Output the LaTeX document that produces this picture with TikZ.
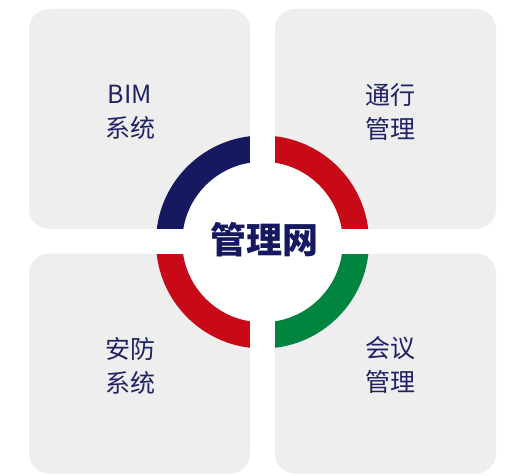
\documentclass[tikz,border=0pt]{standalone}
\usepackage{fontspec}
\newfontfamily\cjk{Noto Sans CJK SC}
\usepackage{tikz}
\usetikzlibrary{positioning}
\definecolor{navy}{HTML}{161860}
\definecolor{ringred}{HTML}{C80A18}
\definecolor{ringgreen}{HTML}{008540}
\definecolor{panelgray}{HTML}{EEEEEE}
\definecolor{labelblue}{HTML}{1F2263}

\begin{document}
\begin{tikzpicture}[x=1pt,y=1pt,
  panelbox/.style={fill=panelgray,rounded corners=20pt,inner sep=0pt,
    minimum width=221pt,minimum height=220pt},
  paneltext/.style={text=labelblue,align=center,
    font=\cjk\fontsize{25}{34}\selectfont},
  ringpart/.style={line width=26.2pt}]
  \fill[white] (0,0) rectangle (516,475);
  \useasboundingbox (0,0) rectangle (516,475);

  \node[panelbox] (bim) at (139.5,356) {};
  \node[panelbox] (pass) at (385.5,356) {};
  \node[panelbox] (guard) at (139.5,111.5) {};
  \node[panelbox] (meet) at (385.5,111.5) {};

  \node[paneltext] (bimtext) at (130,363) {BIM\\系统};
  \node[paneltext] (passtext) at (390,363) {通行\\管理};
  \node[paneltext] (guardtext) at (130,109.5) {安防\\系统};
  \node[paneltext] (meettext) at (390,109.5) {会议\\管理};

  \coordinate (ring) at (262.5,233);
  \fill[white] (ring) circle[radius=80.3];
  \draw[ringpart,navy] (ring) ++(90:93.4) arc[start angle=90,end angle=180,radius=93.4];
  \draw[ringpart,ringred] (ring) ++(0:93.4) arc[start angle=0,end angle=90,radius=93.4];
  \draw[ringpart,ringred] (ring) ++(180:93.4) arc[start angle=180,end angle=270,radius=93.4];
  \draw[ringpart,ringgreen] (ring) ++(270:93.4) arc[start angle=270,end angle=360,radius=93.4];
  \fill[white] (250,120) rectangle (275,350);
  \fill[white] (150,221.5) rectangle (375,246);

  \node[text=navy,font=\cjk\bfseries\fontsize{36}{40}\selectfont] (hub) at (264,235) {管理网};
\end{tikzpicture}
\end{document}
